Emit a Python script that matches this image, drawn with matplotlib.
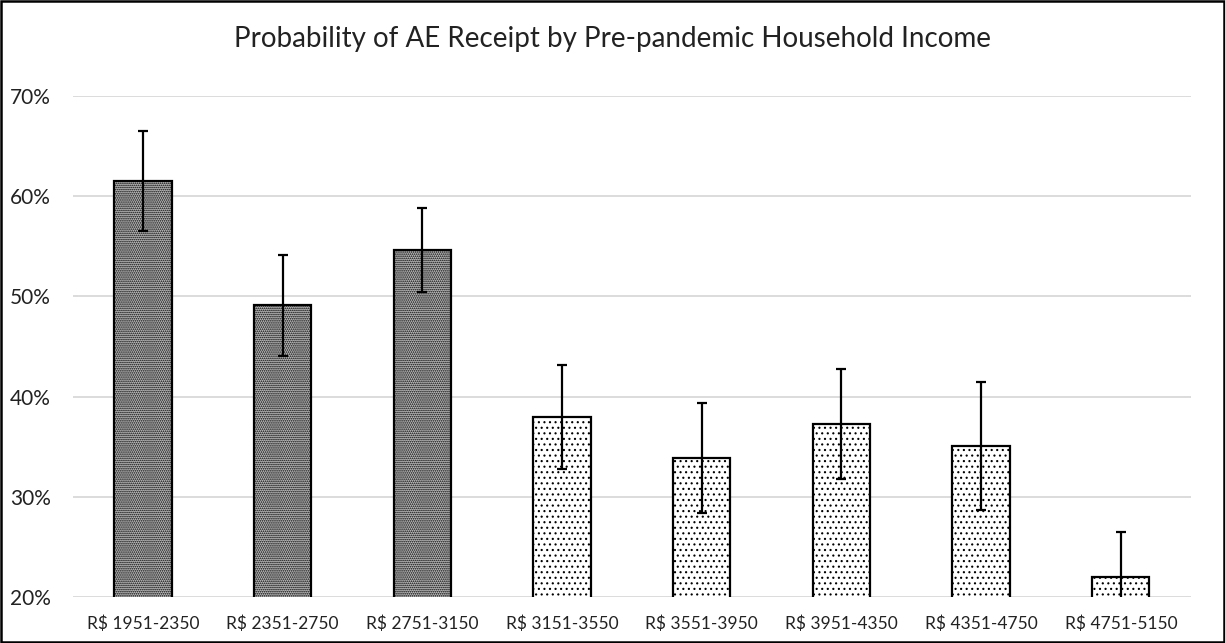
import matplotlib
matplotlib.use("Agg")
import matplotlib.pyplot as plt
from matplotlib.patches import Rectangle
from matplotlib.ticker import FuncFormatter

income_bands = ['R$ 1951-2350', 'R$ 2351-2750', 'R$ 2751-3150', 'R$ 3151-3550',
                'R$ 3551-3950', 'R$ 3951-4350', 'R$ 4351-4750', 'R$ 4751-5150']
prob_ae = [61.5, 49.1, 54.6, 38.0, 33.9, 37.3, 35.1, 22.0]
err_ae = [5.0, 5.0, 4.2, 5.2, 5.5, 5.5, 6.4, 4.5]
dark_group = [True, True, True, False, False, False, False, False]

plt.rcParams['font.family'] = ['Lato', 'DejaVu Sans']
plt.rcParams['hatch.linewidth'] = 0.8

fig = plt.figure(figsize=(12.25, 6.43), dpi=100)
ax = fig.add_axes([0.0596, 0.0715, 0.9124, 0.7792])

x = list(range(len(income_bands)))
for i in x:
    if dark_group[i]:
        face, hatch = '#bdbdbd', '........'
    else:
        face, hatch = 'white', '...'
    ax.bar(i, prob_ae[i], width=0.41, bottom=0, color=face, edgecolor='black',
           linewidth=1.6, hatch=hatch, zorder=2)

ax.errorbar(x, prob_ae, yerr=err_ae, fmt='none', ecolor='black', elinewidth=1.6,
            capsize=3.6, capthick=1.6, zorder=3)

ax.set_xlim(-0.5, len(income_bands) - 0.5)
ax.set_ylim(20, 70)
ax.set_yticks([20, 30, 40, 50, 60, 70])
ax.yaxis.set_major_formatter(FuncFormatter(lambda v, p: f'{v:.0f}%'))
ax.set_xticks(x)
ax.set_xticklabels(income_bands)
ax.tick_params(axis='both', length=0, colors='#222222')
ax.tick_params(axis='x', labelsize=12.5, pad=13)
ax.tick_params(axis='y', labelsize=15, pad=16)
ax.grid(axis='y', color='#d9d9d9', linewidth=1.3, zorder=0)
ax.set_axisbelow(True)
for s in ax.spines.values():
    s.set_visible(False)

fig.text(0.5, 0.94, 'Probability of AE Receipt by Pre-pandemic Household Income',
         ha='center', va='center', fontsize=20, color='#222222')

fig.patches.append(Rectangle((0.001, 0.0015), 0.998, 0.997, transform=fig.transFigure,
                             fill=False, edgecolor='black', linewidth=1.8))

fig.savefig('out.png', dpi=100)
